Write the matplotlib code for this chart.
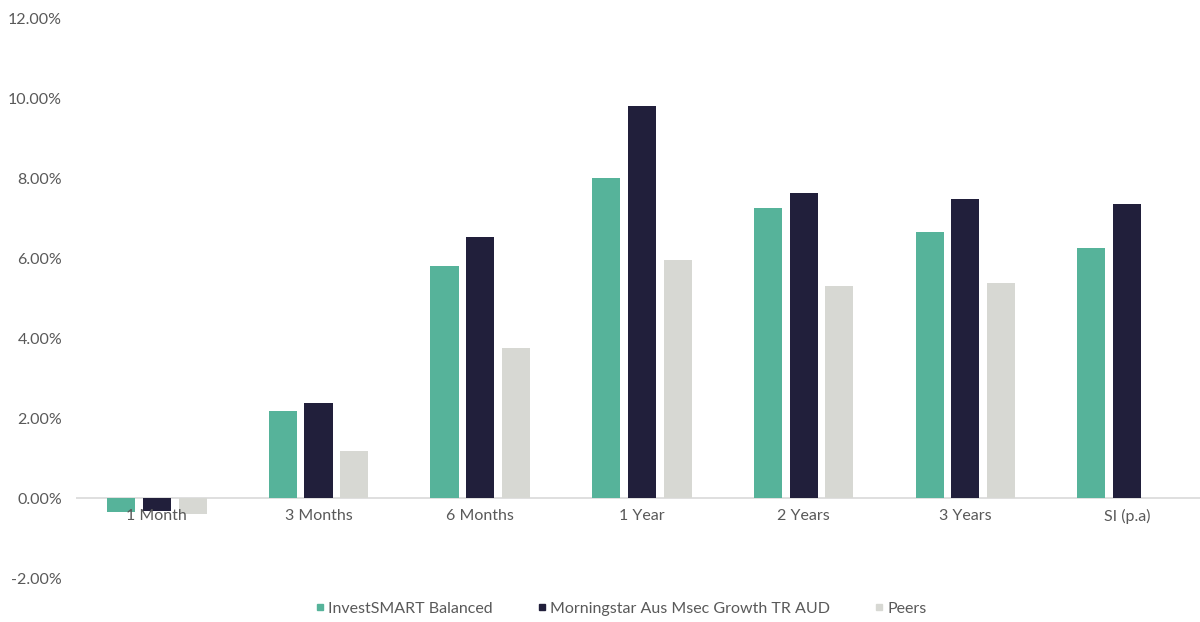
import matplotlib.pyplot as plt
import numpy as np
from matplotlib.lines import Line2D
from matplotlib.ticker import FuncFormatter

plt.rcParams['font.family'] = ['Lato', 'DejaVu Sans']

categories = ['1 Month', '3 Months', '6 Months', '1 Year', '2 Years', '3 Years', 'SI (p.a)']
series_names = ['InvestSMART Balanced', 'Morningstar Aus Msec Growth TR AUD', 'Peers']
balanced = [-0.35, 2.18, 5.80, 8.00, 7.26, 6.64, 6.26]
benchmark = [-0.33, 2.38, 6.52, 9.81, 7.62, 7.47, 7.35]
peers = [-0.40, 1.18, 3.75, 5.96, 5.29, 5.38, np.nan]

colors = ['#56B39A', '#211F3B', '#D7D8D3']
text_col = '#595959'
fs = 11.5

fig = plt.figure(figsize=(12, 6.22), dpi=100)
ax = fig.add_axes([76 / 1200, 1 - 578 / 622, 1 - 76 / 1200, (578 - 18) / 622])

x = np.arange(len(categories))
width = 0.174
pitch = 0.221
for i, (vals, col) in enumerate(zip([balanced, benchmark, peers], colors)):
    ax.bar(x + (i - 1) * pitch, vals, width, color=col, zorder=3)

ax.set_ylim(-2, 12)
ax.set_yticks(np.arange(-2, 12.1, 2))
ax.yaxis.set_major_formatter(FuncFormatter(lambda v, p: f'{v:.2f}%'))
ax.set_xlim(-0.5, -0.5 + 1124 / 161.7)
ax.set_xticks([])

ax.axhline(0, color='#D9D9D9', lw=1.2, zorder=2)
for s in ax.spines.values():
    s.set_visible(False)
ax.tick_params(axis='y', length=0, colors=text_col, labelsize=fs, pad=10)

# category labels sit just below the zero line
for xi, name in zip(x, categories):
    ax.annotate(name, (xi, 0), xytext=(0, -13), textcoords='offset points',
                ha='center', va='center', fontsize=fs, color=text_col)

handles = [Line2D([], [], marker='s', color=c, linestyle='none', markersize=4) for c in colors]
fig.legend(handles, series_names, loc='center', bbox_to_anchor=(0.516, 1 - 609 / 622),
           ncol=3, frameon=False, fontsize=fs, handletextpad=0.0, handlelength=1.0,
           columnspacing=2.6, labelcolor=text_col)

fig.savefig('out.png', dpi=100)
